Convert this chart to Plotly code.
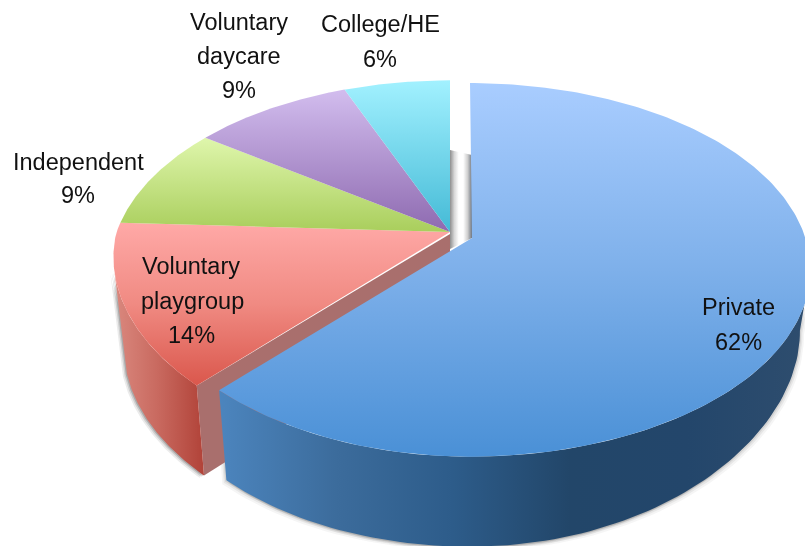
import numpy as np
import plotly.graph_objects as go

# ---- data ----
categories = ["Private", "Voluntary playgroup", "Independent", "Voluntary daycare", "College/HE"]
values = [62, 14, 9, 9, 6]

# ---- perspective geometry of the drawn pie (pixels) ----
W, H = 805, 546
GROUP_GEOM = dict(cx=450, cy=234, ax=450, ay=232, R=334, S=181, K=0.178, skew=19)
PRIVATE_GEOM = dict(cx=470, cy=240, ax=472, ay=238, R=336, S=182, K=0.16, skew=19)


def tangent(g):
    return np.degrees(np.arccos(-g["K"]))  # angle at which the rim is widest on screen


def rim(theta, g):
    t = np.radians(theta)
    X, Y = np.sin(t), -np.cos(t)
    w = 1 - g["K"] * Y
    return g["cx"] + g["R"] * X / w + g["skew"] * np.maximum(0, Y) * np.maximum(0, -X), g["cy"] + g["S"] * Y / w


def rim_bottom(theta, g):
    t = np.radians(theta)
    X = np.sin(t)
    x, y = rim(theta, g)
    return x - 10.6 * X, y + 90 - 30 * np.maximum(0, X) ** 2


def arc(a, b, g, fn=rim, n=90):
    return fn(np.linspace(a, b, n), g)


def add_poly(fig, xs, ys, **kw):
    fig.add_trace(go.Scatter(x=list(xs), y=list(ys), mode="lines", fill="toself",
                             line=dict(width=0), hoverinfo="skip", showlegend=False, **kw))


def grad(kind, start, stop, stops):
    n = len(stops) - 1
    return dict(type=kind, start=start, stop=stop,
                colorscale=[[i / n, c] for i, c in enumerate(stops)])


def side(a, b, g):
    ax, ay = arc(a, b, g)
    bx, by = arc(a, b, g, rim_bottom)
    return np.r_[ax, bx[::-1]], np.r_[ay, by[::-1]]


edges = np.cumsum([0] + values) / sum(values) * 360
fig = go.Figure()

priv_end = edges[1]
play_start = edges[1]
left_tangent = 360 - tangent(GROUP_GEOM)
right_tangent = tangent(PRIVATE_GEOM)

priv_side = side(right_tangent, priv_end, PRIVATE_GEOM)
play_side = side(play_start, left_tangent, GROUP_GEOM)

# soft shadow under the sides
for off, op in ((4, 0.10), (2.5, 0.16), (1.2, 0.25)):
    for dx in (-off, off):
        add_poly(fig, priv_side[0] + dx, priv_side[1] + off, fillcolor=f"rgba(60,60,60,{op / 2})")
    add_poly(fig, play_side[0] - off, play_side[1] + off * 0.6, fillcolor=f"rgba(60,60,60,{op})")

# cut face of the group behind the pulled-out slice
px, py = rim(play_start, GROUP_GEOM)
bx, by = rim_bottom(play_start, GROUP_GEOM)
add_poly(fig, [GROUP_GEOM["ax"], px, bx, GROUP_GEOM["ax"]],
         [GROUP_GEOM["ay"] + 2, py, by, GROUP_GEOM["ay"] + 88], fillcolor="#A96F6D")

# playgroup side
add_poly(fig, *play_side,
         fillgradient=grad("horizontal", 112, 202, ["#DB8A80", "#C96A60", "#B2443A"]))

# top faces of the group
tops = [
    (edges[1], edges[2], ["#FFA9A7", "#F08A82", "#DA574C"]),
    (edges[2], edges[3], ["#DFF6AC", "#A9CE5C"]),
    (edges[3], edges[4], ["#D2BDEE", "#8E6AB0"]),
    (edges[4], edges[5], ["#A2F1FF", "#44BAD6"]),
]
for a, b, stops in tops:
    x, y = arc(a, b, GROUP_GEOM)
    add_poly(fig, np.r_[GROUP_GEOM["ax"], x, GROUP_GEOM["ax"]], np.r_[GROUP_GEOM["ay"], y, GROUP_GEOM["ay"]],
             fillgradient=grad("vertical", y.min(), max(y.max(), GROUP_GEOM["ay"]), stops))

# inner walls seen through the gap
add_poly(fig, [450, 450, 472, 472], [150, 249, 238, 155],
         fillgradient=grad("horizontal", 450, 472,
                           ["#8E8E8E", "#D8D8D8", "#FFFFFF", "#FFFFFF", "#CFCFCF", "#6F7680"]))

# private side
add_poly(fig, *priv_side,
         fillgradient=grad("horizontal", 218, 805,
                           ["#4C85BE", "#3C6C9C", "#2D5C8A", "#224669", "#23466B", "#2E4D6E"]))

# private top
x, y = arc(0, priv_end, PRIVATE_GEOM, n=240)
add_poly(fig, np.r_[PRIVATE_GEOM["ax"], x, PRIVATE_GEOM["ax"]], np.r_[PRIVATE_GEOM["ay"], y, PRIVATE_GEOM["ay"]],
         fillgradient=grad("vertical", y.min(), y.max(), ["#A9CDFF", "#7EB0EA", "#4A90D6"]))

# labels
label_lines = [
    ("Voluntary", 239, 22), ("daycare", 239, 56), ("9%", 239, 90),
    ("College/HE", 380, 24), ("6%", 380, 59),
    ("Independent", 78, 162), ("9%", 78, 195),
    ("Voluntary", 191, 266), ("playgroup", 192, 301), ("14%", 191, 335),
    ("Private", 738, 307), ("62%", 738, 342),
]
for text, lx, ly in label_lines:
    fig.add_annotation(x=lx, y=ly, text=text, showarrow=False, xanchor="center", yanchor="middle",
                       font=dict(family="Liberation Sans", size=23.5, color="#111111"))

fig.update_layout(width=W, height=H, margin=dict(l=0, r=0, t=0, b=0),
                  paper_bgcolor="white", plot_bgcolor="white", showlegend=False,
                  xaxis=dict(range=[0, W], visible=False, fixedrange=True),
                  yaxis=dict(range=[H, 0], visible=False, fixedrange=True))
fig.write_html("out.html", config=dict(displayModeBar=False),
               post_script="document.body.style.margin='0';document.documentElement.style.overflow='hidden';"
                           "document.querySelector('.plot-container').style.filter='blur(0.5px)';")
